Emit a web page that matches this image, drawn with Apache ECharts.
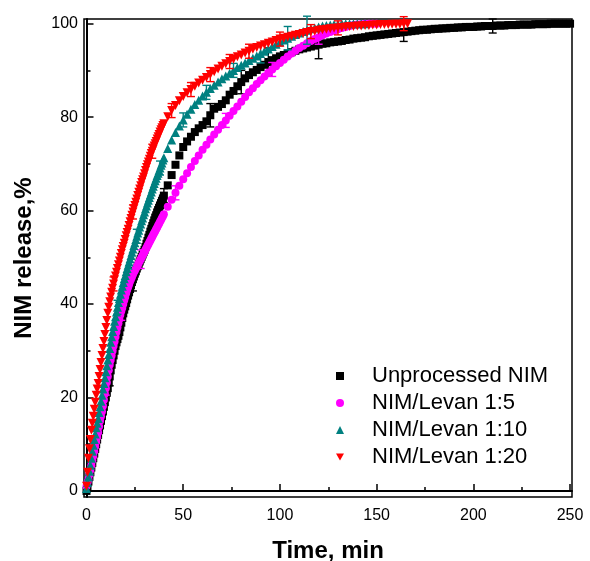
<!DOCTYPE html>
<html>
<head>
<meta charset="utf-8">
<script src="https://cdn.jsdelivr.net/npm/echarts@6/dist/echarts.min.js"></script>
<style>
html,body{margin:0;padding:0;background:#fff;}
#chart{width:590px;height:561px;}
</style>
</head>
<body>
<div id="chart"></div>
<script>
// ---- Data ----
const seriesNames = ['Unprocessed NIM', 'NIM/Levan 1:5', 'NIM/Levan 1:10', 'NIM/Levan 1:20'];

const timeEarly = [0,0.5,1,1.5,2,2.5,3,3.5,4,4.5,5,5.5,6,6.5,7,7.5,8,8.5,9,9.5,10,10.5,11,11.5,12,12.5,13,13.5,14,14.5,15,15.5,16,16.5,17,17.5,18,18.5,19,19.5,
  20,20.5,21,21.5,22,22.5,23,23.5,24,24.5,25,25.5,26,26.5,27,27.5,28,28.5,29,29.5,30,30.5,31,31.5,32,32.5,33,33.5,34,34.5,35,35.5,36,36.5,37,37.5,38,38.5,39,39.5,40];
const timeLate = [42,44,46,48,50,52,54,56,58,60,62,64,66,68,70,72,74,76,78,80,82,84,86,88,90,92,94,96,98,100,
  102,104,106,108,110,112,114,116,118,120,122,124,126,128,130,132,134,136,138,140,142,144,146,148,150,
  152,154,156,158,160,162,164,166,168,170,172,174,176,178,180,182,184,186,188,190,192,194,196,198,200,
  202,204,206,208,210,212,214,216,218,220,222,224,226,228,230,232,234,236,238,240,242,244,246,248,250];

const unprocessedValues = [0,1,2,3,4,5,6,7,8,9,10,11,12,13,14,15,16,17,18,19,20,21,22,23.2,24.5,25.8,27,28,29,30,31,31.8,32.5,33.2,34,35,36,37,38,38.8,
  39.5,40.2,41,41.8,42.5,43.2,44,44.7,45.3,45.9,46.5,47,47.6,48.1,48.6,49.1,49.6,50.1,50.6,51.1,51.6,52.2,52.9,53.5,54.2,54.8,55.5,56.1,56.7,57.3,57.9,58.5,59,59.6,60.1,60.6,61.1,61.6,62.1,62.6,63.2,
  65.4,67.6,69.8,71.8,73.6,74.8,75.8,76.8,77.6,78.3,79.1,80.4,81.8,82.2,82.8,83.6,84.8,85.6,86.6,87.5,88.3,89,89.6,90.1,90.7,91.2,91.8,92.2,92.6,93,
  93.3,93.6,93.9,94.2,94.5,94.7,94.9,95.1,95.3,95.5,95.7,95.8,96,96.1,96.2,96.3,96.5,96.6,96.8,96.9,97,97.1,97.3,97.4,97.5,
  97.6,97.7,97.8,97.9,98,98.1,98.2,98.3,98.4,98.5,98.6,98.7,98.7,98.8,98.9,98.9,99,99,99.1,99.1,99.2,99.2,99.3,99.3,99.3,
  99.4,99.4,99.5,99.5,99.5,99.6,99.6,99.6,99.7,99.7,99.7,99.8,99.8,99.8,99.8,99.9,99.9,99.9,99.9,100,100,100,100,100,100];

const levan5Values = [1,1.8,2.5,3.5,4.5,5.5,6.5,7.5,8.5,9.5,10.5,11.5,12.5,13.8,15,16,17,18.2,19.5,20.8,22,23.2,24.5,25.8,27,28,29,30,31,32,33,34,35,35.9,36.8,37.7,38.5,39.2,40,40.8,
  41.5,42.3,43,43.6,44.2,44.8,45.3,45.8,46.3,46.8,47.2,47.6,48,48.4,48.8,49.2,49.6,50,50.4,50.8,51.2,51.6,52,52.4,52.8,53.2,53.6,54,54.4,54.8,55.2,55.6,56,56.4,56.8,57.2,57.6,58,58.4,58.8,59.2,
  60.8,62.3,63.8,65.3,66.7,68,69.3,70.6,71.8,73,74.1,75.2,76.3,77.3,78.3,79.3,80.3,81.3,82.3,83.3,84.3,85.3,86.2,87.1,87.9,88.7,89.5,90.2,90.9,91.6,
  92.3,93,93.6,94.2,94.8,95.3,95.8,96.3,96.7,97.1,97.5,97.9,98.2,98.5,98.8,99.1,99.3,99.5,99.7,99.8,99.9,100,100,100,100];

const levan10Values = [0.5,1.8,3,4.2,5.5,7,8.5,9.8,11,12.2,13.5,14.5,15.5,16.8,18,19.2,20.5,21.8,23,24.2,25.5,26.8,28,29.2,30.5,31.8,33,34.1,35.2,36.3,37.3,38.3,39.3,40.3,41.2,42.1,43,43.8,44.6,45.4,
  46.1,46.9,47.6,48.3,49,49.7,50.4,51.1,51.8,52.5,53.1,53.8,54.5,55.2,55.8,56.5,57.1,57.8,58.4,59.1,59.7,60.4,61,61.6,62.2,62.8,63.4,64,64.6,65.2,65.8,66.4,66.9,67.5,68,68.6,69.1,69.7,70.2,70.8,71.3,
  73.3,75.1,76.7,78.1,79.4,80.6,81.7,82.7,83.6,84.5,85.3,86.1,86.8,87.5,88.2,88.8,89.4,90,90.6,91.1,91.6,92.1,92.6,93.1,93.6,94.1,94.6,95.1,95.6,96.1,
  96.5,96.9,97.3,97.7,98,98.3,98.6,98.9,99.1,99.3,99.5,99.6,99.7,99.8,99.9,100,100,100,100,100,100,100];

const levan20Values = [1,4,7,9,11,13,14.5,16,17.5,19,20.5,21.8,23,24.5,26,27.5,29,30.5,32,33.5,35,36.5,38,39.3,40.5,41.5,42.5,43.4,44.3,45.2,46,46.8,47.6,48.4,49.2,50,50.8,51.6,52.3,53,
  53.8,54.6,55.3,56,56.8,57.6,58.3,59,59.7,60.4,61.1,61.8,62.5,63.2,63.9,64.6,65.3,66,66.6,67.2,67.9,68.6,69.2,69.8,70.4,71,71.6,72.2,72.7,73.2,73.8,74.3,74.8,75.3,75.8,76.3,76.8,77.3,77.7,78.2,78.6,
  80.1,81.4,82.5,83.5,84.4,85.2,85.9,86.6,87.3,87.9,88.5,89.1,89.7,90.3,90.9,91.4,91.9,92.4,92.9,93.3,93.7,94.1,94.5,94.9,95.2,95.5,95.8,96.1,96.4,96.7,
  96.9,97.1,97.3,97.5,97.7,97.9,98.1,98.3,98.4,98.6,98.7,98.8,98.9,99,99.1,99.2,99.3,99.4,99.4,99.5,99.5,99.6,99.6,99.7,99.7,
  99.8,99.8,99.8,99.9,99.9,99.9,100,100];

// error bars: times (must be sampled times) and half-widths
const errUnprocessedT = [12,24,40,64,80,94,120,164,210];
const errUnprocessedE = [2,2.5,1.5,2.5,2.5,3,3,2,1.5];
const errLevan5T = [10,18,28,46,72,96,120];
const errLevan5E = [1.5,2,2,1.5,1.5,1.5,1.5];
const errLevan10T = [16,26,38,50,62,76,90,104,114];
const errLevan10E = [1.5,1.5,1.5,1.5,1.5,1.5,2,2.5,3];
const errLevan20T = [14,24,34,44,54,64,74,84,100,116,130,164];
const errLevan20E = [1.5,1.5,1.5,1.5,1.5,1.5,1.5,1.5,1.5,1.5,1.5,1.5];

const xMajorTicks = [0,50,100,150,200,250];
const xMinorTicks = [25,75,125,175,225];
const yMajorTicks = [0,20,40,60,80,100];
const yMinorTicks = [10,30,50,70,90];

// ---- Build ----
const allTimes = timeEarly.concat(timeLate);
function pairs(values){ return values.map((v,i)=>[allTimes[i], v]); }
function errData(values, ts, es){
  return ts.map((t,k)=>{ const v = values[allTimes.indexOf(t)]; return [t, v-es[k], v+es[k]]; });
}
const FONT = 'Liberation Sans, Arial, sans-serif';
const colors = ['#000000','#FF00FF','#008080','#FF0000'];
const symbols = ['rect','circle','triangle','path://M0,0L10,0L5,9Z'];
const sizes = [8,8,9,9];
const valueSets = [unprocessedValues, levan5Values, levan10Values, levan20Values];
const errSets = [[errUnprocessedT,errUnprocessedE],[errLevan5T,errLevan5E],[errLevan10T,errLevan10E],[errLevan20T,errLevan20E]];

function errRender(color){
  return function(params, api){
    const x = api.value(0), lo = api.value(1), hi = api.value(2);
    const a = api.coord([x, lo]), b = api.coord([x, hi]);
    const w = 4;
    const st = {stroke: color, lineWidth: 1.4};
    return {type:'group', children:[
      {type:'line', shape:{x1:a[0], y1:a[1], x2:b[0], y2:b[1]}, style:st},
      {type:'line', shape:{x1:a[0]-w, y1:a[1], x2:a[0]+w, y2:a[1]}, style:st},
      {type:'line', shape:{x1:b[0]-w, y1:b[1], x2:b[0]+w, y2:b[1]}, style:st}
    ]};
  };
}

const series = [];
for (let s=0; s<4; s++){
  series.push({
    name: seriesNames[s], type:'scatter', data: pairs(valueSets[s]),
    symbol: symbols[s], symbolSize: sizes[s], itemStyle:{color: colors[s], opacity:1},
    clip:false, z: 2+s*2
  });
  series.push({
    name: seriesNames[s]+' err', type:'custom', data: errData(valueSets[s], errSets[s][0], errSets[s][1]),
    renderItem: errRender(colors[s]), encode:{x:0, y:[1,2]}, clip:false, z: 3+s*2
  });
}

const chart = echarts.init(document.getElementById('chart'), null, {renderer:'canvas'});
chart.setOption({
  animation:false,
  backgroundColor:'#fff',
  grid:{left:84, right:18, top:19, bottom:64, containLabel:false, outerBoundsMode:'none',
        show:true, borderColor:'#000', borderWidth:1.5, backgroundColor:'transparent'},
  legend:{
    orient:'vertical', left:331, top:360, itemWidth:8, itemHeight:8, itemGap:5,
    data: seriesNames,
    textStyle:{fontFamily:FONT, fontSize:22, color:'#000', lineHeight:22, padding:[0,0,0,23]},
    selectedMode:false
  },
  xAxis:[{
    type:'value', min:-1.3, max:251, position:'bottom',
    axisLine:{show:true, lineStyle:{color:'#000', width:2}},
    axisTick:{show:true, inside:true, length:7, customValues:xMajorTicks, lineStyle:{color:'#000', width:1.5}},
    axisLabel:{customValues:xMajorTicks, fontFamily:FONT, fontSize:16, color:'#000', margin:11},
    splitLine:{show:false},
    name:'Time, min', nameLocation:'middle', nameGap:42,
    nameTextStyle:{fontFamily:FONT, fontSize:24, fontWeight:'bold', color:'#000'}
  },{
    type:'value', min:-1.3, max:251, position:'bottom',
    axisLine:{show:false},
    axisTick:{show:true, inside:true, length:4, customValues:xMinorTicks, lineStyle:{color:'#000', width:1.5}},
    axisLabel:{show:false}, splitLine:{show:false}
  }],
  yAxis:[{
    type:'value', min:-1.3, max:101, position:'left',
    axisLine:{show:true, lineStyle:{color:'#000', width:2}},
    axisTick:{show:true, inside:true, length:7, customValues:yMajorTicks, lineStyle:{color:'#000', width:1.5}},
    axisLabel:{customValues:yMajorTicks, fontFamily:FONT, fontSize:16, color:'#000', margin:6},
    splitLine:{show:false},
    name:'NIM release,%', nameLocation:'middle', nameGap:48,
    nameTextStyle:{fontFamily:FONT, fontSize:24, fontWeight:'bold', color:'#000'}
  },{
    type:'value', min:-1.3, max:101, position:'left',
    axisLine:{show:false},
    axisTick:{show:true, inside:true, length:4, customValues:yMinorTicks, lineStyle:{color:'#000', width:1.5}},
    axisLabel:{show:false}, splitLine:{show:false}
  }],
  series: series
});
</script>
</body>
</html>
